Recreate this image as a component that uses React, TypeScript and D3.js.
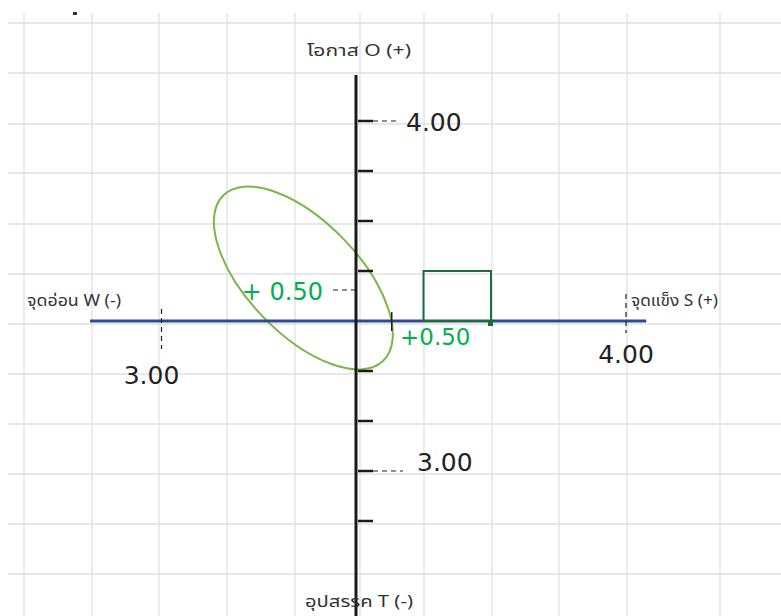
import React from 'react';
import * as d3 from 'd3';

// ---- data ----
const factorKeys = ['S', 'W', 'O', 'T'];
const factorLabels = ['จุดแข็ง S (+)', 'จุดอ่อน W (-)', 'โอกาส O (+)', 'อุปสรรค T (-)'];
const factorScores = [4.0, 3.0, 4.0, 3.0];
const netScores = [0.5, 0.5]; // [S-W axis, O-T axis]
const yTickValues = [-4, -3, -2, -1, 1, 2, 3, 4];
const gridCols = [24, 92, 159, 227, 295, 360, 424, 492, 559, 627, 720];
const gridRows = [23, 73, 124, 173, 224, 274, 324, 374, 424, 474, 524, 574];

const W = 781;
const H = 616;

export default function App() {
  const x = d3.scaleLinear().domain([-4, 4]).range([356 - 4 * 67.5, 356 + 4 * 67.5]);
  const y = d3.scaleLinear().domain([-4, 4]).range([521, 121]);
  const score = (k: string) => factorScores[factorKeys.indexOf(k)];
  const label = (k: string) => factorLabels[factorKeys.indexOf(k)];
  const fmt = d3.format('.2f');
  const thai = '"Noto Sans Thai", Tahoma, "Noto Sans", sans-serif';
  const num = '"DejaVu Sans", Verdana, sans-serif';
  const green = '#00B050';
  const x0 = x(0);
  const y0 = y(0);
  const sx = x(score('S'));
  const wx = x(-score('W'));
  const oy = y(score('O'));
  const ty = y(-score('T'));
  const px = x(netScores[0]);
  const py = y(netScores[1]);

  return (
    <svg width={W} height={H} style={{ position: 'absolute', left: 0, top: 0, background: '#fff' }}>
      {/* spreadsheet grid */}
      <g stroke="#e0e0e0" strokeWidth={1.3}>
        {gridCols.map((c) => (
          <line key={'c' + c} x1={c} x2={c} y1={13} y2={H} />
        ))}
        {gridRows.map((r) => (
          <line key={'r' + r} x1={8} x2={W} y1={r} y2={r} />
        ))}
      </g>
      <rect x={73} y={12} width={4} height={3} fill="#333" />

      {/* ellipse decoration */}
      <ellipse
        cx={x(-0.78)}
        cy={y(0.86)}
        rx={115}
        ry={56}
        transform={`rotate(46 ${x(-0.78)} ${y(0.86)})`}
        fill="none"
        stroke="#7AB648"
        strokeWidth={2}
      />

      {/* horizontal S-W axis */}
      <line x1={x(-3.94)} x2={x(4.3)} y1={y0} y2={y0} stroke="#2F4B8C" strokeWidth={3} />

      {/* vertical O-T axis */}
      <line x1={x0} x2={x0} y1={75} y2={H} stroke="#1a1a1a" strokeWidth={3} />
      {yTickValues.map((v) => (
        <line key={v} x1={x0 + 2} x2={x0 + 17} y1={y(v)} y2={y(v)} stroke="#1a1a1a" strokeWidth={2.5} />
      ))}

      {/* net point box */}
      <rect
        x={x(1)}
        y={y(1)}
        width={x(2) - x(1)}
        height={y(0) - y(1)}
        fill="none"
        stroke="#1E6B3C"
        strokeWidth={2}
      />
      <rect x={x(2) - 3} y={y0} width={5} height={5} fill="#1E6B3C" />

      {/* score markers */}
      <line x1={x0 + 17} x2={x0 + 44} y1={oy} y2={oy} stroke="#222" strokeWidth={1.2} strokeDasharray="5,4" />
      <text x={406} y={oy + 10} fontFamily={num} fontSize={25} fill="#222">{fmt(score('O'))}</text>

      <line x1={x0 + 17} x2={x0 + 47} y1={ty} y2={ty} stroke="#222" strokeWidth={1.2} strokeDasharray="5,4" />
      <text x={417} y={ty} fontFamily={num} fontSize={25} fill="#222">{fmt(score('T'))}</text>

      <line x1={wx + 8} x2={wx + 8} y1={y0 - 12} y2={y0 + 28} stroke="#222" strokeWidth={1.2} strokeDasharray="5,4" />
      <text x={wx - 2} y={384} fontFamily={num} fontSize={25} fill="#222" textAnchor="middle">{fmt(score('W'))}</text>

      <line x1={sx} x2={sx} y1={y0 - 27} y2={y0 + 12} stroke="#222" strokeWidth={1.2} strokeDasharray="5,4" />
      <text x={sx} y={363} fontFamily={num} fontSize={25} fill="#222" textAnchor="middle">{fmt(score('S'))}</text>

      {/* net markers */}
      <line x1={x0 - 23} x2={x0} y1={py - 6} y2={py - 6} stroke="#222" strokeWidth={1.2} strokeDasharray="5,4" />
      <text x={323} y={py + 4} fontFamily={num} fontSize={24} fill={green} textAnchor="end">
        {'+ ' + fmt(netScores[1])}
      </text>
      <line x1={px + 2} x2={px + 2} y1={y0 - 9} y2={y0 + 10} stroke="#222" strokeWidth={1.5} />
      <text x={400} y={345} fontFamily={num} fontSize={23} fill={green}>
        {'+' + fmt(netScores[0])}
      </text>

      {/* axis titles */}
      <text x={307} y={56} fontFamily={thai} fontSize={16} fill="#333" textLength={104} lengthAdjust="spacingAndGlyphs">{label('O')}</text>
      <text x={27} y={306} fontFamily={thai} fontSize={16} fill="#333" textLength={94} lengthAdjust="spacingAndGlyphs">{label('W')}</text>
      <text x={631} y={306} fontFamily={thai} fontSize={16} fill="#333" textLength={87} lengthAdjust="spacingAndGlyphs">{label('S')}</text>
      <text x={305} y={607} fontFamily={thai} fontSize={16} fill="#333" textLength={108} lengthAdjust="spacingAndGlyphs">{label('T')}</text>
    </svg>
  );
}
